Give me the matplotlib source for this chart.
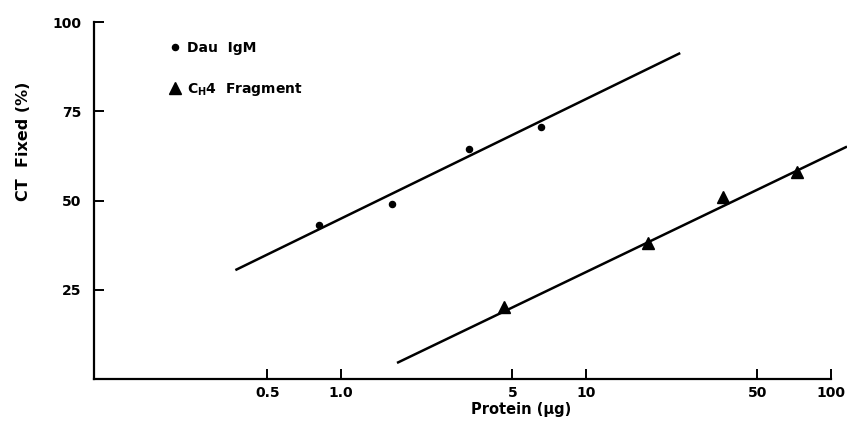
import matplotlib
matplotlib.use("Agg")
import matplotlib.pyplot as plt
from matplotlib.lines import Line2D

# ---- data ----
dau_x = [0.815, 1.615, 3.32, 6.55]
dau_y = [43.0, 49.0, 64.3, 70.5]
ch4_x = [4.60, 17.9, 36.1, 72.4]
ch4_y = [20.1, 38.0, 50.9, 58.1]
dau_fit_x = [0.37, 24.2]
dau_fit_y = [30.5, 91.3]
ch4_fit_x = [1.69, 116.0]
ch4_fit_y = [4.5, 65.1]
xticks = [0.5, 1.0, 5, 10, 50, 100]
xtick_labels = ["0.5", "1.0", "5", "10", "50", "100"]
yticks = [25, 50, 75, 100]
ytick_labels = ["25", "50", "75", "100"]

plt.rcParams['font.family'] = ['DejaVu Sans']
plt.rcParams['font.weight'] = 'bold'
plt.rcParams['mathtext.default'] = 'regular'

W, H = 847, 422
fig = plt.figure(figsize=(W / 100, H / 100), dpi=100)
left, right, top, bottom = 94, 847, 22, 379
ax = fig.add_axes([left / W, (H - bottom) / H, (right - left) / W, (bottom - top) / H])

ax.set_xscale('log')
ax.set_xlim(0.098, 116)
ax.set_ylim(0, 100)

ax.plot(dau_fit_x, dau_fit_y, color='black', lw=1.8, solid_capstyle='butt')
ax.plot(ch4_fit_x, ch4_fit_y, color='black', lw=1.8, solid_capstyle='butt')
ax.plot(dau_x, dau_y, 'o', color='black', ms=4.4, clip_on=False)
ax.plot(ch4_x, ch4_y, '^', color='black', ms=8, clip_on=False)

for s in ['top', 'right']:
    ax.spines[s].set_visible(False)
for s in ['left', 'bottom']:
    ax.spines[s].set_linewidth(1.6)
ax.spines['bottom'].set_bounds(0.098, 100)

ax.set_xticks(xticks)
ax.set_xticklabels(xtick_labels)
ax.xaxis.set_minor_locator(matplotlib.ticker.NullLocator())
ax.set_yticks(yticks)
ax.set_yticklabels(ytick_labels)
ax.tick_params(axis='x', direction='in', length=7, width=1.4, labelsize=10, pad=5)
ax.tick_params(axis='y', direction='in', length=7, width=1.4, labelsize=10, pad=9)

ax.set_xlabel('Protein (μg)', fontsize=10.5, fontweight='bold', labelpad=3)
ax.xaxis.set_label_coords((521 - left) / (right - left), -0.065)
fig.text(24 / W, (H - 141) / H, 'CT  Fixed (%)', rotation=90, ha='center', va='center',
         fontsize=11.5, fontweight='bold')

handles = [
    Line2D([], [], ls='none', marker='o', color='black', ms=4.4),
    Line2D([], [], ls='none', marker='^', color='black', ms=8),
]
labels = ['Dau  IgM', 'C$_{H}$4  Fragment']
leg = ax.legend(handles, labels, loc='upper left', bbox_to_anchor=(169 / W, (H - 41) / H),
                bbox_transform=fig.transFigure, frameon=False, borderpad=0, borderaxespad=0,
                handlelength=0.9, handletextpad=0.4, labelspacing=1.85,
                prop={'size': 10, 'weight': 'bold'})

fig.savefig('out.png', dpi=100)
